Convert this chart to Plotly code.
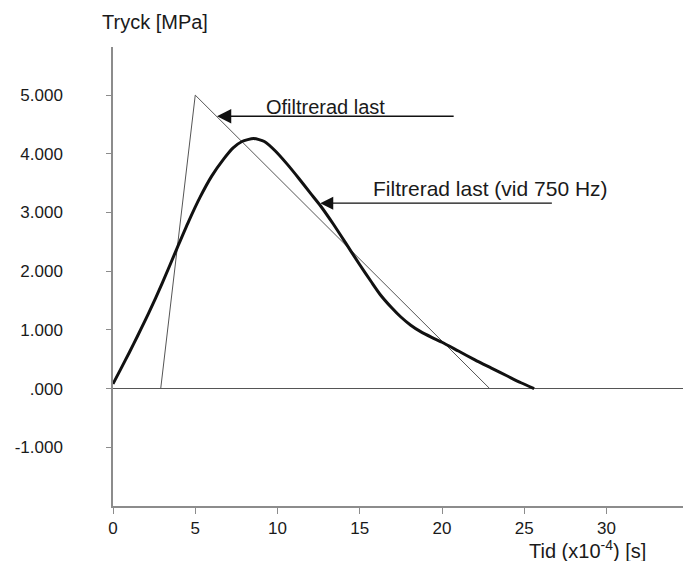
import plotly.graph_objects as go

# Unfiltered load pulse (time in 1e-4 s, pressure in MPa)
raw_t = [2.9, 5.0, 22.9]
raw_p = [0.0, 5.0, 0.0]

# Load filtered at 750 Hz
filt_t = [0.0, 0.5, 1.0, 1.5, 2.16, 3.0, 3.89, 4.6, 5.31, 6.0, 6.7, 7.3, 7.84, 8.55,
          9.2, 9.9, 10.6, 11.3, 12.0, 12.6, 13.4, 14.1, 15.0, 15.7, 16.25, 16.9, 17.5,
          18.1, 18.7, 19.4, 20.0, 21.0, 22.0, 23.0, 24.0, 24.8, 25.6]
filt_p = [0.08, 0.35, 0.62, 0.9, 1.28, 1.8, 2.39, 2.85, 3.27, 3.62, 3.9, 4.1, 4.21, 4.26,
          4.21, 4.04, 3.82, 3.58, 3.33, 3.12, 2.8, 2.5, 2.11, 1.82, 1.6, 1.39, 1.22,
          1.08, 0.97, 0.87, 0.79, 0.64, 0.49, 0.35, 0.21, 0.1, 0.0]

x_ticks = [0, 5, 10, 15, 20, 25, 30]
y_ticks = [-1, 0, 1, 2, 3, 4, 5]
y_tick_text = ["-1.000", ".000", "1.000", "2.000", "3.000", "4.000", "5.000"]

FONT = "Liberation Sans, Arial, sans-serif"
AXIS_GREY = "#8c8c8c"
INK = "#1a1a1a"

fig = go.Figure()
fig.add_trace(go.Scatter(x=raw_t, y=raw_p, mode="lines",
                         line=dict(color="#555555", width=1), showlegend=False))
fig.add_trace(go.Scatter(x=filt_t, y=filt_p, mode="lines",
                         line=dict(color="#111111", width=3, shape="spline", smoothing=0.6),
                         showlegend=False))

# Arrow pointing at the unfiltered pulse
fig.add_annotation(x=6.32, y=4.64, ax=20.8, ay=4.64, xref="x", yref="y",
                   axref="x", ayref="y", text="", showarrow=True,
                   arrowhead=2, arrowsize=2.2, arrowwidth=1.3, arrowcolor="#111111")
fig.add_annotation(x=9.15, y=4.79, xref="x", yref="y", text="Ofiltrerad last",
                   showarrow=False, xanchor="left", yanchor="middle",
                   font=dict(family=FONT, size=20, color=INK))

# Arrow pointing at the filtered pulse
fig.add_annotation(x=12.6, y=3.16, ax=26.77, ay=3.16, xref="x", yref="y",
                   axref="x", ayref="y", text="", showarrow=True,
                   arrowhead=2, arrowsize=2.0, arrowwidth=1.3, arrowcolor="#111111")
fig.add_annotation(x=15.7, y=3.41, xref="x", yref="y",
                   text="Filtrerad last (vid 750 Hz)",
                   showarrow=False, xanchor="left", yanchor="middle",
                   font=dict(family=FONT, size=21, color=INK))

# Axis titles
fig.add_annotation(x=-0.023, y=1.054, xref="paper", yref="paper", text="Tryck [MPa]",
                   showarrow=False, xanchor="left", yanchor="middle",
                   font=dict(family=FONT, size=20, color=INK))
fig.add_annotation(x=0.938, y=-0.094, xref="paper", yref="paper",
                   text="Tid (x10<sup>-4</sup>) [s]",
                   showarrow=False, xanchor="right", yanchor="middle",
                   font=dict(family=FONT, size=20, color=INK))

fig.update_layout(
    width=683, height=561,
    margin=dict(l=113, r=0, t=47, b=55),
    plot_bgcolor="white", paper_bgcolor="white",
    font=dict(family=FONT, color=INK),
    xaxis=dict(range=[0, 34.65], tickvals=x_ticks, ticks="outside", ticklen=6,
               tickcolor=AXIS_GREY, showline=True, linecolor=AXIS_GREY, linewidth=1.5,
               showgrid=False, zeroline=False, tickfont=dict(family=FONT, size=17)),
    yaxis=dict(range=[-2, 5.82], tickvals=y_ticks, ticktext=y_tick_text,
               ticks="outside", ticklen=5, tickcolor=AXIS_GREY, showline=True,
               linecolor=AXIS_GREY, linewidth=1.5, showgrid=False,
               zeroline=True, zerolinecolor="#555555", zerolinewidth=1,
               ticklabelstandoff=40, tickfont=dict(family=FONT, size=17)),
)

fig.write_html("out.html")
